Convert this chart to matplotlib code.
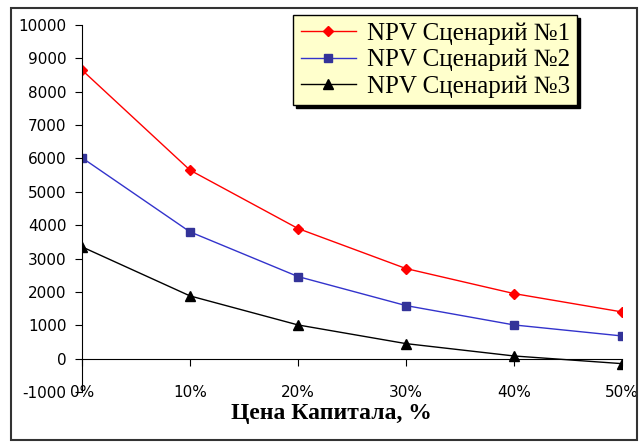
import matplotlib
matplotlib.use("Agg")
import matplotlib.pyplot as plt
from matplotlib.patches import Rectangle
from matplotlib.ticker import FuncFormatter

plt.rcParams["axes.unicode_minus"] = False

# data
rates = [0.0, 0.1, 0.2, 0.3, 0.4, 0.5]
npv1 = [8650, 5650, 3900, 2700, 1950, 1400]
npv2 = [6020, 3800, 2460, 1590, 1010, 680]
npv3 = [3350, 1880, 1010, 450, 80, -150]
labels = ["NPV Сценарий №1", "NPV Сценарий №2", "NPV Сценарий №3"]

fig = plt.figure(figsize=(6.42, 4.46), dpi=100)
ax = fig.add_axes([82/642, 1-392/446, 540/642, 367/446])

ax.plot(rates, npv1, color="#FF0000", lw=1, marker="D", ms=5, label=labels[0])
ax.plot(rates, npv2, color="#3333CC", lw=1, marker="s", ms=6,
        mfc="#333399", mec="#333399", label=labels[1])
ax.plot(rates, npv3, color="black", lw=1, marker="^", ms=7, label=labels[2])

ax.set_xlim(0, 0.5)
ax.set_ylim(-1000, 10000)
ax.set_yticks(range(-1000, 10001, 1000))
ax.set_xticks(rates)
ax.xaxis.set_major_formatter(FuncFormatter(lambda v, p: f"{round(v*100)}%"))

for s in ["top", "right"]:
    ax.spines[s].set_visible(False)
ax.spines["bottom"].set_position(("data", 0))
ax.spines["left"].set_position(("data", 0))
ax.tick_params(axis="y", direction="out", length=5, labelsize=11, pad=6)
ax.tick_params(axis="x", direction="out", length=5, labelsize=11, pad=14)

ax.set_xlabel("Цена Капитала, %", family="Liberation Serif", fontweight="bold",
              fontsize=17)
ax.xaxis.set_label_coords(0.461, -0.03)

leg = ax.legend(loc="upper left", bbox_to_anchor=(293/642, 1-15/446),
                bbox_transform=fig.transFigure, borderaxespad=0,
                prop={"family": "Liberation Serif", "size": 18},
                frameon=True, fancybox=False,
                shadow={"color": "black", "alpha": 1}, handlelength=2.2,
                borderpad=0.3, labelspacing=0.15, handletextpad=0.45)
leg.get_frame().set_facecolor("#FFFFCC")
leg.get_frame().set_edgecolor("black")
leg.get_frame().set_alpha(1)

fig.patches.append(Rectangle((11/642, 1-440/446), 626/642, 432/446,
                             transform=fig.transFigure, fill=False,
                             edgecolor="#333333", lw=1.5))

fig.savefig("out.png", dpi=100)
